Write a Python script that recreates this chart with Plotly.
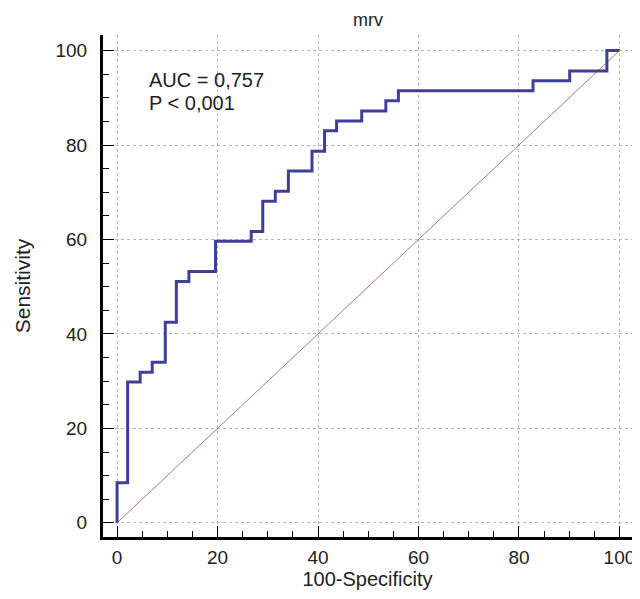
import plotly.graph_objects as go

# ROC step points (100-Specificity, Sensitivity)
fpr = [0, 0, 2.1, 2.1, 4.6, 4.6, 7.0, 7.0, 9.6, 9.6, 11.8, 11.8, 14.3, 14.3,
       19.6, 19.6, 26.7, 26.7, 29.0, 29.0, 31.5, 31.5, 34.1, 34.1, 38.8, 38.8,
       41.3, 41.3, 43.7, 43.7, 48.7, 48.7, 53.5, 53.5, 56.0, 56.0, 82.8, 82.8,
       90.1, 90.1, 97.5, 97.5, 100]
tpr = [0, 8.5, 8.5, 29.8, 29.8, 31.9, 31.9, 34.0, 34.0, 42.5, 42.5, 51.1, 51.1, 53.2,
       53.2, 59.6, 59.6, 61.7, 61.7, 68.1, 68.1, 70.2, 70.2, 74.5, 74.5, 78.7,
       78.7, 83.0, 83.0, 85.1, 85.1, 87.2, 87.2, 89.4, 89.4, 91.5, 91.5, 93.6,
       93.6, 95.7, 95.7, 100, 100]
diag = [0, 100]
title_text = "mrv"
auc_text = "AUC = 0,757"
p_text = "P < 0,001"
tickvals = [0, 20, 40, 60, 80, 100]

FAM = "Liberation Sans, Arial, sans-serif"
W, H = 632, 591  # page body has an 8px margin
MT, MB = 27, 62
PH = H - MT - MB
fig = go.Figure()
fig.add_trace(go.Scatter(x=diag, y=diag, mode="lines",
                         line=dict(color="#b07a7a", width=1), hoverinfo="skip"))
fig.add_trace(go.Scatter(x=fpr, y=tpr, mode="lines",
                         line=dict(color="#3f3f98", width=3)))

tfont = dict(family=FAM, size=19, color="#222")
axis_common = dict(
    showline=True, linecolor="black", linewidth=3, mirror=False,
    ticks="inside", ticklen=11, tickwidth=1, tickcolor="black",
    tickvals=tickvals, showgrid=True, gridcolor="#b5b5b5", griddash="dot",
    gridwidth=1, zeroline=False, tickfont=tfont, automargin=False,
    minor=dict(dtick=5, ticks="inside", ticklen=6, tickcolor="black", showgrid=False),
)
fig.update_layout(
    width=W, height=H, showlegend=False,
    paper_bgcolor="white", plot_bgcolor="white",
    margin=dict(l=95, r=8, t=MT, b=MB),
    font=dict(family=FAM, size=20, color="#222"),
    xaxis=dict(range=[-2.8, 102.5], ticklabelstandoff=1,
               title=dict(text="100-Specificity", standoff=5, font=dict(family=FAM, size=20)),
               **axis_common),
    yaxis=dict(range=[-3.0, 103.3], ticklabelstandoff=9,
               title=dict(text="Sensitivity", standoff=20, font=dict(family=FAM, size=21)),
               **axis_common),
)
# chart title (as annotation centred over the plot area)
fig.add_annotation(x=0.5, xref="paper", y=1 + (MT - 12) / PH, yref="paper",
                   text=title_text, showarrow=False, xanchor="center", yanchor="middle",
                   font=dict(family=FAM, size=18, color="#222"))
fig.add_annotation(x=6, y=93.8, text=auc_text, showarrow=False, xanchor="left",
                   yanchor="middle", font=dict(family=FAM, size=20, color="#222"))
fig.add_annotation(x=6, y=89.0, text=p_text, showarrow=False, xanchor="left",
                   yanchor="middle", font=dict(family=FAM, size=20, color="#222"))
fig.write_html("out.html")
